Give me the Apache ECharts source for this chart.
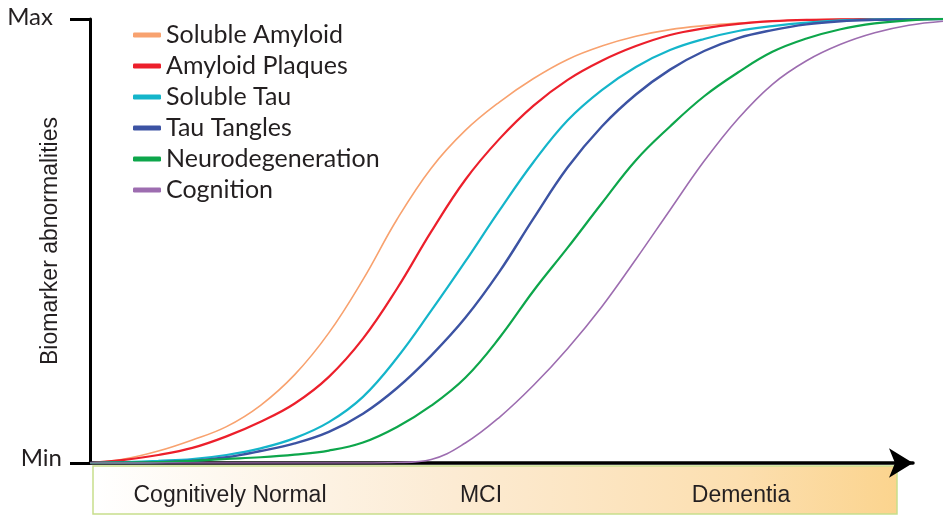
<!DOCTYPE html>
<html><head><meta charset="utf-8">
<script src="https://cdn.jsdelivr.net/npm/echarts@6/dist/echarts.min.js"></script>
<style>html,body{margin:0;padding:0;background:#fff}#c{width:943px;height:515px}</style>
</head><body><div id="c"></div>
<script>
const progression = [0,4,8,12,16,20,24,28,32,36,40,44,48,52,56,60,64,68,72,76,80,84,88,92,96,100];
const seriesNames = ['Soluble Amyloid','Amyloid Plaques','Soluble Tau','Tau Tangles','Neurodegeneration','Cognition'];
const solubleAmyloid    = [0,0.9,2.7,5.2,8.2,13.0,19.9,29.3,41.3,54.9,66.4,74.9,81.3,86.6,90.9,93.9,96.1,97.6,98.5,99.1,99.5,99.8,100,100,100,100];
const amyloidPlaques    = [0,0.7,1.8,3.4,6.0,9.3,13.4,19.4,28.0,39.3,52.1,63.8,73.0,80.5,86.3,90.6,93.9,96.4,97.9,98.9,99.5,99.8,99.9,100,100,100];
const solubleTau        = [0,0.2,0.5,0.9,1.8,3.3,5.6,9.2,14.9,23.7,34.3,45.4,56.9,67.8,77.2,84.0,89.2,93.0,95.5,97.3,98.4,99.2,99.7,99.9,100,100];
const tauTangles        = [0,0,0.2,0.5,1.3,2.7,4.4,7.0,11.1,16.9,24.2,32.7,43.1,55.1,66.6,75.8,83.0,88.6,92.8,95.7,97.5,98.8,99.5,99.8,99.9,100];
const neurodegeneration = [0,0.1,0.2,0.5,0.9,1.3,1.9,2.8,4.6,8.1,12.9,19.2,28.2,38.8,48.5,58.5,68.2,75.8,82.6,88.0,92.6,95.6,97.7,99.0,99.7,100];
const cognition         = [0,0,0,0,0,0,0,0,0,0.1,0.8,4.5,10.3,17.5,25.8,35.2,45.9,57.0,68.0,77.6,85.3,90.6,94.3,96.9,98.6,99.5];
const yTickLabels = {0:'Min',100:'Max'};
const yAxisTitle = 'Biomarker abnormalities';
const stageLabels = ['Cognitively Normal','MCI','Dementia'];

const values = [solubleAmyloid, amyloidPlaques, solubleTau, tauTangles, neurodegeneration, cognition];
const colors = ['#F8A26F','#EC1F2B','#14B5CA','#3C53A3','#0DA64B','#9D6DB0'];
const widths = [1.6,2.2,2.2,2.4,2.2,1.6];
const stageX = [230, 481, 741];

const chart = echarts.init(document.getElementById('c'), null, {renderer:'canvas'});
const textColor = '#231F20';
chart.setOption({
  animation:false,
  backgroundColor:'#ffffff',
  grid:[
    {left:90, right:0, top:19, bottom:52, containLabel:false, outerBoundsMode:'none'},
    {left:90, right:30, top:19, bottom:52, containLabel:false, outerBoundsMode:'none'}
  ],
  legend:{
    orient:'vertical', left:133, top:22, padding:0,
    icon:'roundRect', itemWidth:28, itemHeight:5, itemGap:5,
    textStyle:{fontFamily:'Lato', fontSize:25, lineHeight:26, color:textColor},
    data:seriesNames
  },
  xAxis:[
    {type:'value', gridIndex:0, min:0, max:100, show:false},
    {type:'value', gridIndex:1, min:0, max:100,
      axisLine:{show:true, symbol:['none','arrow'], symbolSize:[22,24], lineStyle:{color:'#000', width:3.5}},
      axisTick:{show:false}, axisLabel:{show:false}, splitLine:{show:false}}
  ],
  yAxis:[
    {type:'value', gridIndex:0, min:0, max:100, interval:100,
      name:yAxisTitle, nameLocation:'middle', nameGap:28, nameMoveOverlap:false,
      nameTextStyle:{fontFamily:'Liberation Sans', fontSize:23, color:textColor},
      axisLine:{show:true, lineStyle:{color:'#000', width:3}},
      axisTick:{show:true, length:20, lineStyle:{color:'#000', width:3}},
      splitLine:{show:false},
      axisLabel:{margin:28, fontFamily:'Lato', fontSize:24, color:textColor,
        formatter:v => v===100 ? '{mx|'+yTickLabels[v]+'}' : '{mn|'+yTickLabels[v]+'}',
        rich:{mx:{fontFamily:'Lato', fontSize:24, color:textColor, padding:[0,9,4,0]},
              mn:{fontFamily:'Lato', fontSize:24, color:textColor, padding:[0,0,10,0]}}}
    },
    {type:'value', gridIndex:1, min:0, max:100, show:false}
  ],
  graphic:[
    {type:'rect', z:0, shape:{x:93, y:466, width:804, height:48},
      style:{fill:new echarts.graphic.LinearGradient(0,0,1,0,[
        {offset:0,color:'#ffffff'},{offset:0.45,color:'#fcebd3'},{offset:0.8,color:'#fcdfb0'},{offset:1,color:'#fbd48e'}]),
        stroke:'#C8DE8C', lineWidth:1.5}}
  ].concat(stageLabels.map((t,i)=>({type:'text', z:10, x:stageX[i], y:496,
      style:{text:t, fontFamily:'Liberation Sans', fontSize:23, fill:textColor, align:'center', verticalAlign:'middle'}}))),
  series: seriesNames.map((n,i)=>({
    name:n, type:'line', xAxisIndex:0, yAxisIndex:0,
    data: progression.map((x,j)=>[x, values[i][j]]),
    showSymbol:false, symbol:'none', smooth:0.4,
    lineStyle:{color:colors[i], width:widths[i]}, itemStyle:{color:colors[i]},
    z: 3
  }))
});
</script></body></html>
